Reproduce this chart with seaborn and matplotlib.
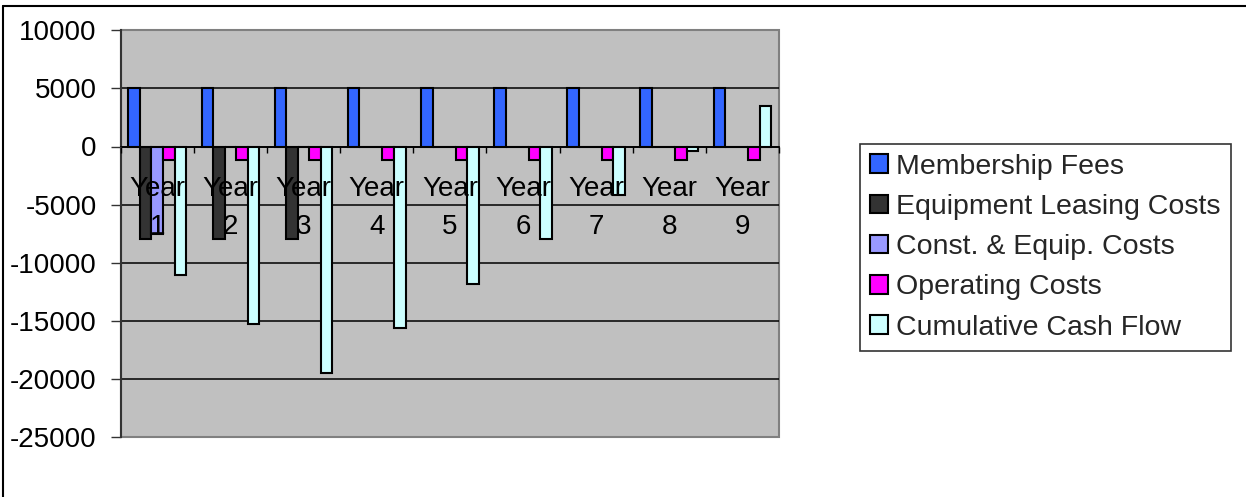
import numpy as np
import pandas as pd
import matplotlib
matplotlib.use("Agg")
import matplotlib.pyplot as plt
import seaborn as sns
from matplotlib.lines import Line2D
from matplotlib.patches import Rectangle
from matplotlib.ticker import FixedLocator

# ---- data ----
years = ["Year 1", "Year 2", "Year 3", "Year 4", "Year 5", "Year 6", "Year 7", "Year 8", "Year 9"]
tick_labels = ["Year\n1", "Year\n2", "Year\n3", "Year\n4", "Year\n5", "Year\n6", "Year\n7", "Year\n8", "Year\n9"]
series = ["Membership Fees", "Equipment Leasing Costs", "Const. & Equip. Costs",
          "Operating Costs", "Cumulative Cash Flow"]
membership_fees = [5000, 5000, 5000, 5000, 5000, 5000, 5000, 5000, 5000]
equipment_leasing = [-8000, -8000, -8000, 0, 0, 0, 0, 0, 0]
const_equip = [-7500, 0, 0, 0, 0, 0, 0, 0, 0]
operating_costs = [-1200, -1200, -1200, -1200, -1200, -1200, -1200, -1200, -1200]
cumulative = [-11100, -15300, -19500, -15650, -11850, -8000, -4200, -400, 3500]
y_ticks = [10000, 5000, 0, -5000, -10000, -15000, -20000, -25000]
colors = ["#3366FF", "#333333", "#9999FF", "#FF00FF", "#CCFFFF"]

values = [membership_fees, equipment_leasing, const_equip, operating_costs, cumulative]
rows = []
for s, vals in zip(series, values):
    for y, v in zip(years, vals):
        rows.append({"Year": y, "Series": s, "Value": v})
df = pd.DataFrame(rows)

# ---- style ----
sns.set_theme(style="white")
plt.rcParams["font.family"] = ["Liberation Sans", "DejaVu Sans"]

W, H = 1246, 497
fig = plt.figure(figsize=(W / 100, H / 100), dpi=100)
fig.patch.set_facecolor("white")
ax = fig.add_axes([120.7 / W, 1 - 437 / H, (779 - 120.7) / W, (437 - 30.3) / H])
ax.set_facecolor("#C0C0C0")

sns.barplot(data=df, x="Year", y="Value", hue="Series", order=years, hue_order=series,
            palette=colors, saturation=1, width=0.79, edgecolor="black", linewidth=1.5,
            errorbar=None, ax=ax, zorder=2)

# spines first (set_position resets tick settings)
for s in ["top", "right"]:
    ax.spines[s].set_visible(False)
ax.spines["bottom"].set_position(("data", 0))
ax.spines["bottom"].set_color("black")
ax.spines["bottom"].set_linewidth(1.3)
ax.spines["left"].set_color("#333333")
ax.spines["left"].set_linewidth(1.5)
ax.set_axisbelow(False)

ax.set_xlim(-0.5, 8.5)
ax.set_ylim(-25000, 10000)
ax.set_yticks(y_ticks)
ax.set_yticklabels([str(t) for t in y_ticks], fontsize=20, color="black")
ax.tick_params(axis="y", length=7.2, width=1, color="#333333", pad=10, left=True)
for t in y_ticks[1:-1]:
    ax.axhline(t, color="black", lw=1.1, zorder=1)

ax.set_xticks(range(len(years)))
ax.set_xticklabels(tick_labels, fontsize=20, color="black", linespacing=1.62)
ax.tick_params(axis="x", which="major", length=0, pad=21)
ax.xaxis.set_minor_locator(FixedLocator(np.arange(-0.5, 9, 1.0)))
ax.tick_params(axis="x", which="minor", length=4, width=1, color="black",
               direction="out", bottom=True)
ax.set_xlabel("")
ax.set_ylabel("")

ax.add_patch(Rectangle((0, 0), 1, 1, transform=ax.transAxes, fill=False,
                       edgecolor="#808080", lw=1.5, clip_on=False, zorder=0.5))

handles, labels = ax.get_legend_handles_labels()
if ax.legend_ is not None:
    ax.legend_.remove()
leg = fig.legend(handles, labels, loc="upper left",
                 bbox_to_anchor=(860 / W, 1 - 143.7 / H), bbox_transform=fig.transFigure,
                 fontsize=20.5, frameon=True, fancybox=False, shadow=False,
                 borderaxespad=0, borderpad=0.35, handlelength=0.62, handleheight=0.62,
                 handletextpad=0.3, labelspacing=0.5)
leg.get_frame().set_edgecolor("black")
leg.get_frame().set_linewidth(1.2)
leg.get_frame().set_facecolor("white")

# figure border (top & left)
fig.add_artist(Line2D([3 / W, 1], [1 - 6 / H, 1 - 6 / H], transform=fig.transFigure,
                      color="black", lw=1.5))
fig.add_artist(Line2D([3 / W, 3 / W], [0, 1 - 6 / H], transform=fig.transFigure,
                      color="black", lw=1.5))

fig.savefig("out.png", dpi=100, facecolor="white")
